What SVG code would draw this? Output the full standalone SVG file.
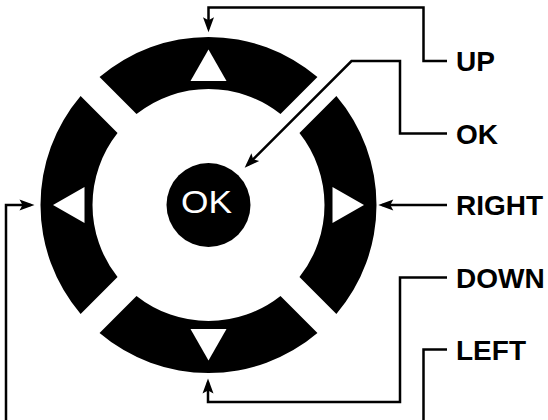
<svg xmlns="http://www.w3.org/2000/svg" width="548" height="420" viewBox="0 0 548 420">
<defs>
<style>
.seg{fill:#000}
.tri{fill:#fff}
.conn{fill:none;stroke:#000;stroke-width:2.5;stroke-linejoin:miter;marker-end:url(#arr)}
.lbl{font-family:"Liberation Sans",Arial,sans-serif;font-weight:bold;font-size:28px;fill:#000}
.ok{font-family:"Liberation Sans",Arial,sans-serif;font-size:31px;fill:#fff}
</style>
<marker id="arr" markerUnits="userSpaceOnUse" markerWidth="24" markerHeight="16" viewBox="-12 -8 24 16" refX="0" refY="0" orient="auto" overflow="visible">
<path d="M4,0 L-11,-5.5 L-8,0 L-11,5.5 Z" fill="#000"/>
</marker>
</defs>
<rect width="548" height="420" fill="#fff"/>
<g id="btn-up">
<path class="seg" d="M99.56,77.11 A168,168 0 0 1 317.44,77.11 L280.5,114.05 A116,116 0 0 0 136.5,114.05 Z"/>
<polygon class="tri" points="208.5,49.5 226.5,81 190.5,81"/>
</g>
<g id="btn-right">
<path class="seg" d="M336.39,96.06 A168,168 0 0 1 336.39,313.94 L299.45,277 A116,116 0 0 0 299.45,133 Z"/>
<polygon class="tri" points="364,205 332.5,187 332.5,223"/>
</g>
<g id="btn-down">
<path class="seg" d="M317.44,332.89 A168,168 0 0 1 99.56,332.89 L136.5,295.95 A116,116 0 0 0 280.5,295.95 Z"/>
<polygon class="tri" points="208.5,360.5 190.5,329 226.5,329"/>
</g>
<g id="btn-left">
<path class="seg" d="M80.61,313.94 A168,168 0 0 1 80.61,96.06 L117.55,133 A116,116 0 0 0 117.55,277 Z"/>
<polygon class="tri" points="53,205 84.5,223 84.5,187"/>
</g>
<g id="btn-ok">
<circle cx="208.5" cy="205" r="42" fill="#000"/>
<text class="ok" x="206.5" y="212.5" text-anchor="middle" textLength="51" lengthAdjust="spacingAndGlyphs">OK</text>
</g>
<g id="connectors">
<path class="conn" d="M447,61 H423.5 V7.5 H208.5 V28.3"/>
<path class="conn" d="M447,133.5 H400 V61 H351.5 L247.5,165"/>
<path class="conn" d="M447,205 H382.3"/>
<path class="conn" d="M447,277.5 H400 V402 H208 V382.5"/>
<path class="conn" d="M447,349.5 H423.5 V430 H6 V205 H30.5"/>
</g>
<g id="labels">
<text class="lbl" x="456" y="71.3">UP</text>
<text class="lbl" x="456" y="143.5">OK</text>
<text class="lbl" x="456" y="215">RIGHT</text>
<text class="lbl" x="456" y="287.5">DOWN</text>
<text class="lbl" x="456" y="359.5">LEFT</text>
</g>
</svg>
